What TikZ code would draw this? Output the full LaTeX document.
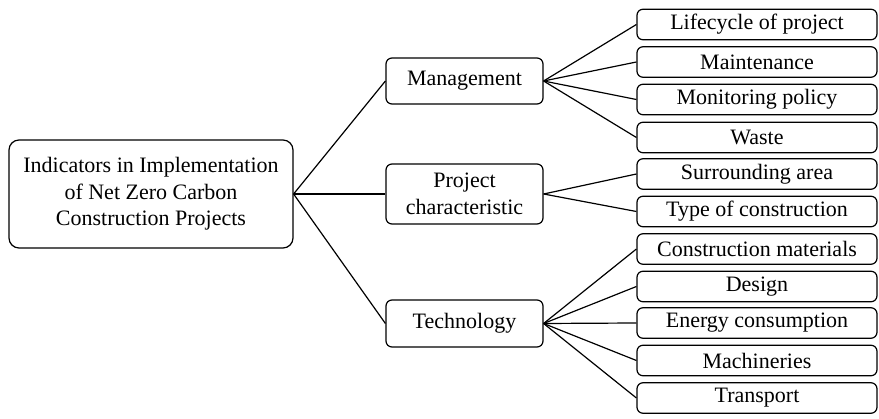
\documentclass[tikz,border=0pt]{standalone}
\usepackage{fontspec}
\setmainfont{Liberation Serif}
\begin{document}
\begin{tikzpicture}[x=1pt,y=-1pt,
  every node/.style={font=\fontsize{22}{26.5}\selectfont},
  box/.style={draw, line width=1.2pt, rounded corners=6pt, align=center, inner sep=0pt, minimum width=#1},
  rootbox/.style={draw, line width=1.2pt, rounded corners=10pt, align=center, inner sep=0pt, minimum width=284pt, minimum height=108pt},
  mid/.style={box=157pt},
  leaf/.style={box=240pt, minimum height=30.5pt},
  conn/.style={line width=1.2pt}]
\useasboundingbox (0,0) rectangle (879,419);
\node[rootbox] (root) at (151,194) {Indicators in Implementation\\of Net Zero Carbon\\Construction Projects};
\node[mid, minimum height=46pt] (man) at (464.5,81) {Management};
\node[mid, minimum height=60pt] (pc) at (464.5,194) {Project\\characteristic};
\node[mid, minimum height=47pt] (tech) at (464.5,323.5) {Technology};
\node[leaf] (l1) at (757,24.5) {Lifecycle of project};
\node[leaf] (l2) at (757,62) {Maintenance};
\node[leaf] (l3) at (757,99.5) {Monitoring policy};
\node[leaf] (l4) at (757,137.5) {Waste};
\node[leaf] (l5) at (757,174) {Surrounding area};
\node[leaf] (l6) at (757,211.5) {Type of construction};
\node[leaf] (l7) at (757,249) {Construction materials};
\node[leaf] (l8) at (757,286.5) {Design};
\node[leaf] (l9) at (757,323) {Energy consumption};
\node[leaf] (l10) at (757,360.5) {Machineries};
\node[leaf] (l11) at (757,398) {Transport};
\foreach \m in {man,pc,tech} \draw[conn] (root.east) -- (\m.west);
\foreach \l in {l1,l2,l3,l4} \draw[conn] (man.east) -- (\l.west);
\foreach \l in {l5,l6} \draw[conn] (pc.east) -- (\l.west);
\foreach \l in {l7,l8,l9,l10,l11} \draw[conn] (tech.east) -- (\l.west);
\end{tikzpicture}
\end{document}
